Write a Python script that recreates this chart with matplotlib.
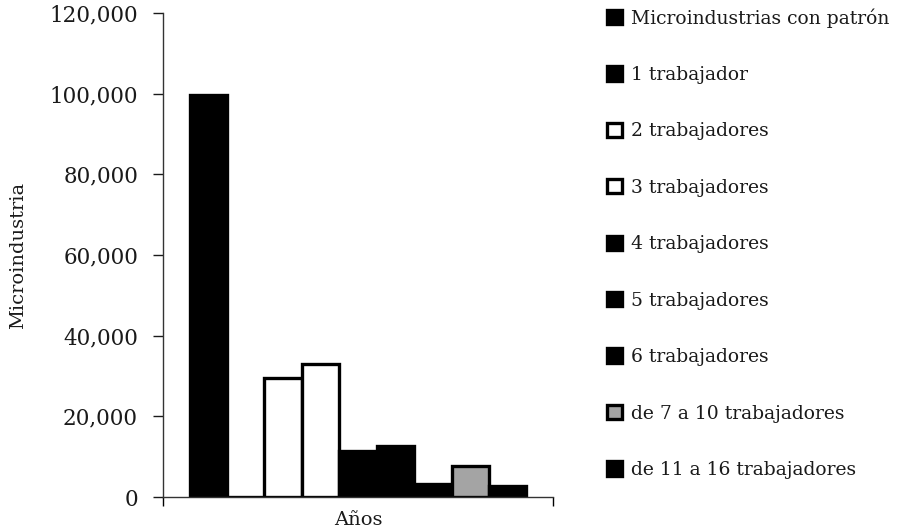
import matplotlib
matplotlib.use("Agg")
import matplotlib.pyplot as plt
from matplotlib.ticker import FuncFormatter

# Microindustry counts by number of workers
categories = [
    "Microindustrias con patrón",
    "1 trabajador",
    "2 trabajadores",
    "3 trabajadores",
    "4 trabajadores",
    "5 trabajadores",
    "6 trabajadores",
    "de 7 a 10 trabajadores",
    "de 11 a 16 trabajadores",
]
values = [99600, 0, 29600, 33000, 11400, 12700, 3300, 7700, 2800]
fills = ["black", "black", "white", "white", "black", "black", "black", "#a4a4a4", "black"]
yticks = [0, 20000, 40000, 60000, 80000, 100000, 120000]

plt.rcParams["font.family"] = ["DejaVu Serif"]

W, H = 897, 532
fig = plt.figure(figsize=(W / 100, H / 100), dpi=100)
ax = fig.add_axes([163 / W, (H - 497) / H, (553 - 163) / W, (497 - 13) / H])

n = len(values)
bar_w = 0.0959
start = 0.5 - n * bar_w / 2
handles = []
for i, (lab, v, c) in enumerate(zip(categories, values, fills)):
    b = ax.bar(start + (i + 0.5) * bar_w, v, width=bar_w, color=c,
               edgecolor="black", linewidth=2.4, label=lab)
    handles.append(b)

ax.set_xlim(0, 1)
ax.set_ylim(0, 120000)
ax.set_yticks(yticks)
ax.yaxis.set_major_formatter(FuncFormatter(lambda v, p: f"{int(v):,}"))
ax.set_xticks([0, 1])
ax.set_xticklabels(["", ""])
ax.tick_params(axis="y", direction="out", length=7, width=1, pad=11,
               labelsize=15.5, colors="#1a1a1a")
ax.tick_params(axis="x", direction="out", length=6.5, width=1)
for s in ["top", "right"]:
    ax.spines[s].set_visible(False)
for s in ["left", "bottom"]:
    ax.spines[s].set_linewidth(1)
    ax.spines[s].set_color("#333333")

ax.set_ylabel("Microindustria", fontsize=14, color="#1a1a1a")
ax.yaxis.set_label_coords(-(163 - 27) / 390, 0.5)
ax.set_xlabel("Años", fontsize=14, labelpad=0, color="#1a1a1a")

leg = fig.legend(handles=handles, labels=categories, loc="upper left",
                 bbox_to_anchor=(607 / W, (H - 8) / H), frameon=False,
                 fontsize=13.5, handlelength=0.8, handleheight=0.8,
                 handletextpad=0.5, labelspacing=2.05, borderpad=0,
                 borderaxespad=0)
for t in leg.get_texts():
    t.set_color("#1a1a1a")

fig.savefig("out.png", dpi=100)
